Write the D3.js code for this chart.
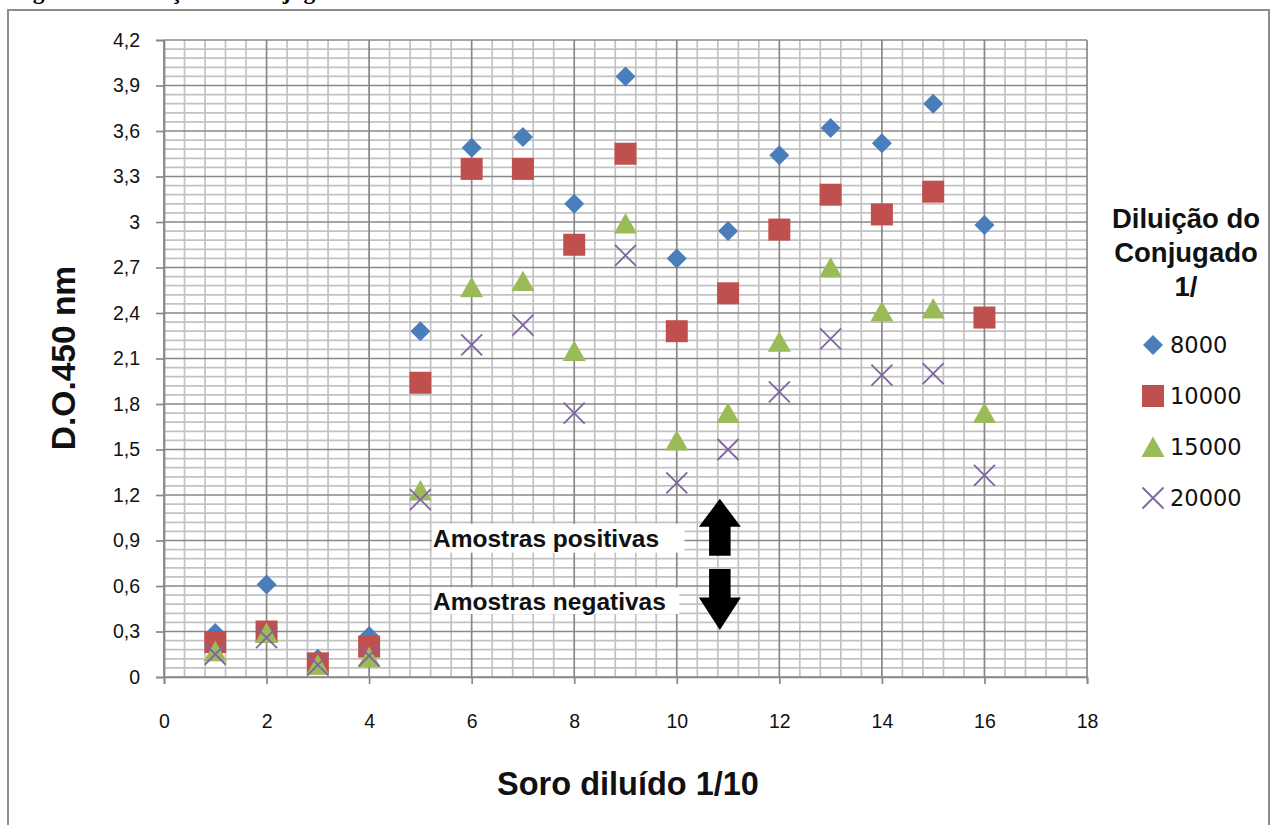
<!DOCTYPE html>
<html lang="pt">
<head>
<meta charset="utf-8">
<title>D.O.450 nm por diluição do conjugado</title>
<script src="https://cdn.jsdelivr.net/npm/d3@7"></script>
<style>
  html, body { margin: 0; padding: 0; background: #fff; }
  svg { display: block; }
</style>
</head>
<body>
<svg id="chart" width="1276" height="825"></svg>
<script>
// Soro diluído 1/10 — amostras 1..16
const samples = d3.range(1, 17);

// D.O. a 450 nm para cada diluição do conjugado (1/8000, 1/10000, 1/15000, 1/20000)
const od8000  = [0.29, 0.61, 0.12, 0.27, 2.28, 3.49, 3.56, 3.12, 3.96, 2.76, 2.94, 3.44, 3.62, 3.52, 3.78, 2.98];
const od10000 = [0.23, 0.30, 0.09, 0.20, 1.94, 3.35, 3.35, 2.85, 3.45, 2.28, 2.53, 2.95, 3.18, 3.05, 3.20, 2.37];
const od15000 = [0.17, 0.29, 0.08, 0.13, 1.23, 2.57, 2.61, 2.15, 2.99, 1.56, 1.74, 2.21, 2.70, 2.41, 2.43, 1.74];
const od20000 = [0.15, 0.26, 0.08, 0.14, 1.17, 2.19, 2.32, 1.74, 2.78, 1.28, 1.50, 1.88, 2.23, 1.99, 2.00, 1.33];

const seriesNames = ["8000", "10000", "15000", "20000"];
const xTicks = [0, 2, 4, 6, 8, 10, 12, 14, 16, 18];
const yTicks = [0, 0.3, 0.6, 0.9, 1.2, 1.5, 1.8, 2.1, 2.4, 2.7, 3, 3.3, 3.6, 3.9, 4.2];
const yTickLabels = ["0", "0,3", "0,6", "0,9", "1,2", "1,5", "1,8", "2,1", "2,4", "2,7", "3", "3,3", "3,6", "3,9", "4,2"];

const series = [
  { name: seriesNames[0], values: od8000,  symbol: "diamond",  color: "#4a7ebb" },
  { name: seriesNames[1], values: od10000, symbol: "square",   color: "#c0504d" },
  { name: seriesNames[2], values: od15000, symbol: "triangle", color: "#9bbb59" },
  { name: seriesNames[3], values: od20000, symbol: "cross",    color: "#8064a2" }
];

const svg = d3.select("#chart");

// Figure caption (runs above the chart frame)
svg.append("text")
  .attr("x", 12).attr("y", -1.5)
  .attr("font-family", "Liberation Serif, Times New Roman, serif")
  .attr("font-weight", "bold").attr("font-size", 23.4)
  .attr("fill", "#000")
  .text("Figura 2: Titulação do Conjugado");

// Chart frame
svg.append("rect")
  .attr("x", 8).attr("y", 10).attr("width", 1261).attr("height", 830)
  .attr("fill", "#fff").attr("stroke", "#8c8c8c").attr("stroke-width", 2);

// Scales
const x = d3.scaleLinear().domain([0, 18]).range([164, 1087]);
const y = d3.scaleLinear().domain([0, 4.2]).range([677, 40]);

const grid = svg.append("g");

// Minor gridlines
const minorX = d3.range(0, 18.001, 0.4).filter(v => Math.abs(v / 2 - Math.round(v / 2)) > 1e-6);
const minorY = d3.range(0, 4.2001, 0.06).filter(v => Math.abs(v / 0.3 - Math.round(v / 0.3)) > 1e-6);

grid.selectAll(".minx").data(minorX).join("line")
  .attr("x1", d => x(d)).attr("x2", d => x(d))
  .attr("y1", y(0)).attr("y2", y(4.2))
  .attr("stroke", "#c2c2c2").attr("stroke-width", 1.7);
grid.selectAll(".miny").data(minorY).join("line")
  .attr("x1", x(0)).attr("x2", x(18))
  .attr("y1", d => y(d)).attr("y2", d => y(d))
  .attr("stroke", "#c2c2c2").attr("stroke-width", 1.7);

// Major gridlines
grid.selectAll(".majx").data(xTicks).join("line")
  .attr("x1", d => x(d)).attr("x2", d => x(d))
  .attr("y1", y(0)).attr("y2", y(4.2))
  .attr("stroke", "#888").attr("stroke-width", 1.7);
grid.selectAll(".majy").data(yTicks).join("line")
  .attr("x1", x(0)).attr("x2", x(18))
  .attr("y1", d => y(d)).attr("y2", d => y(d))
  .attr("stroke", "#888").attr("stroke-width", 1.7);

// Axes
const xAxis = d3.axisBottom(x).tickValues(xTicks).tickSize(7).tickPadding(30).tickFormat(d3.format("d"));
const yAxis = d3.axisLeft(y).tickValues(yTicks).tickSize(8).tickPadding(16)
  .tickFormat((d, i) => yTickLabels[i]);

const gx = svg.append("g").attr("transform", `translate(0,${y(0)})`).call(xAxis);
const gy = svg.append("g").attr("transform", `translate(${x(0)},0)`).call(yAxis);

[gx, gy].forEach(g => {
  g.select(".domain").attr("stroke", "#888").attr("stroke-width", 1.7);
  g.selectAll(".tick line").attr("stroke", "#888").attr("stroke-width", 1.7);
  g.selectAll(".tick text")
    .attr("font-family", "Liberation Sans, Arial, sans-serif")
    .attr("font-size", 19.5).attr("fill", "#111");
});

// Axis titles
svg.append("text")
  .attr("x", 628).attr("y", 795)
  .attr("text-anchor", "middle")
  .attr("font-family", "Liberation Sans, Arial, sans-serif")
  .attr("font-weight", "bold").attr("font-size", 32.5)
  .attr("fill", "#111")
  .text("Soro diluído 1/10");

svg.append("text")
  .attr("transform", `translate(75,${358}) rotate(-90)`)
  .attr("text-anchor", "middle")
  .attr("font-family", "Liberation Sans, Arial, sans-serif")
  .attr("font-weight", "bold").attr("font-size", 33.5)
  .attr("fill", "#111")
  .text("D.O.450 nm");

// Marker shapes
const symbolPath = (kind, s) => {
  switch (kind) {
    case "diamond":  return `M0,${-s}L${s},0L0,${s}L${-s},0Z`;
    case "square":   return `M${-s},${-s}H${s}V${s}H${-s}Z`;
    case "triangle": return `M0,${-s}L${s * 1.1},${s * 0.95}H${-s * 1.1}Z`;
    case "cross":    return `M${-s},${-s}L${s},${s}M${s},${-s}L${-s},${s}`;
  }
};
const markerSize = { diamond: 10, square: 11, triangle: 10.5, cross: 10.5 };

function drawMarker(sel, kind, color) {
  const s = markerSize[kind];
  if (kind === "cross") {
    sel.append("path").attr("d", symbolPath(kind, s))
      .attr("fill", "none").attr("stroke", color).attr("stroke-width", 1.8);
  } else {
    sel.append("path").attr("d", symbolPath(kind, s)).attr("fill", color);
  }
}

// Data points
const pts = svg.append("g");
series.forEach(sr => {
  const g = pts.append("g");
  sr.values.forEach((v, i) => {
    const m = g.append("g").attr("transform", `translate(${x(samples[i])},${y(v)})`);
    drawMarker(m, sr.symbol, sr.color);
  });
});

// Annotations: positive / negative samples
const ann = svg.append("g");
const boxes = [
  { label: "Amostras positivas", x1: 10.15, top: 1.01, bottom: 0.82, base: 0.855 },
  { label: "Amostras negativas", x1: 10.05, top: 0.59, bottom: 0.415, base: 0.44 }
];
boxes.forEach(b => {
  ann.append("rect")
    .attr("x", 432).attr("y", y(b.top))
    .attr("width", x(b.x1) - 432).attr("height", y(b.bottom) - y(b.top))
    .attr("fill", "#fff");
  ann.append("text")
    .attr("x", 433).attr("y", y(b.base))
    .attr("font-family", "Liberation Sans, Arial, sans-serif")
    .attr("font-weight", "bold").attr("font-size", 24.5)
    .attr("fill", "#111")
    .text(b.label);
});

// Block arrows
const ax = x(10.84);
const up = [[0, 1.175], [0.41, 0.99], [0.21, 0.99], [0.21, 0.80], [-0.21, 0.80], [-0.21, 0.99], [-0.41, 0.99]];
const down = [[0, 0.31], [0.41, 0.525], [0.21, 0.525], [0.21, 0.712], [-0.21, 0.712], [-0.21, 0.525], [-0.41, 0.525]];
const toPts = arr => arr.map(([dx, v]) => [ax + (x(dx) - x(0)), y(v)].join(",")).join(" ");
ann.append("polygon").attr("points", toPts(up)).attr("fill", "#000");
ann.append("polygon").attr("points", toPts(down)).attr("fill", "#000");

// Legend
const leg = svg.append("g");
["Diluição do", "Conjugado", "1/"].forEach((t, i) => {
  leg.append("text")
    .attr("x", 1186).attr("y", 228 + i * 34)
    .attr("text-anchor", "middle")
    .attr("font-family", "Liberation Sans, Arial, sans-serif")
    .attr("font-weight", "bold").attr("font-size", 27.5)
    .attr("fill", "#111")
    .text(t);
});
series.forEach((sr, i) => {
  const cy = 345 + i * 51;
  const m = leg.append("g").attr("transform", `translate(1153,${cy})`);
  drawMarker(m, sr.symbol, sr.color);
  leg.append("text")
    .attr("x", 1170).attr("y", cy + 8)
    .attr("font-family", "DejaVu Sans, Verdana, sans-serif")
    .attr("font-size", 22.5)
    .attr("fill", "#111")
    .text(sr.name);
});
</script>
</body>
</html>
